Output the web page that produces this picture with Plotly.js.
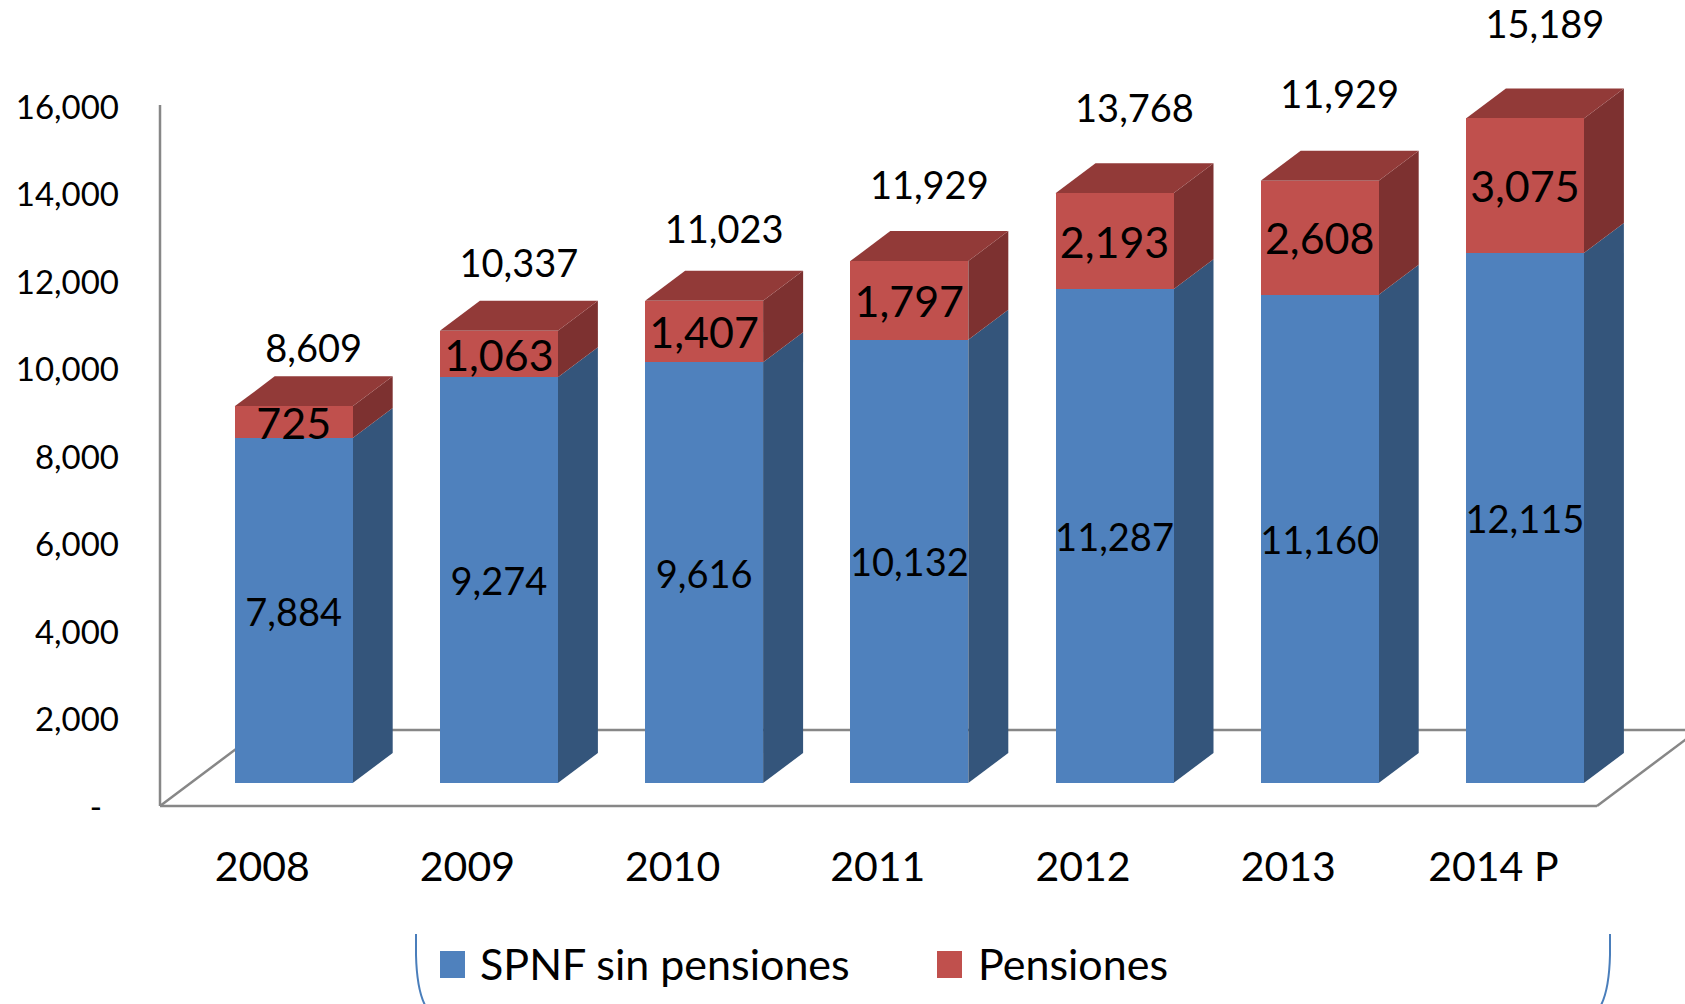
<!DOCTYPE html>
<html>
<head>
<meta charset="utf-8">
<script src="https://cdn.plot.ly/plotly-3.0.1.min.js"></script>
<style>
  html, body { margin: 0; padding: 0; background: #ffffff; }
  #chart { width: 1685px; height: 1004px; }
</style>
</head>
<body>
<div id="chart"></div>
<script>
// ---------------- DATA ----------------
const years = ['2008', '2009', '2010', '2011', '2012', '2013', '2014 P'];
const spnfSinPensiones = [7884, 9274, 9616, 10132, 11287, 11160, 12115];
const pensiones = [725, 1063, 1407, 1797, 2193, 2608, 3075];
// total labels exactly as printed on the chart
const totalLabels = ['8,609', '10,337', '11,023', '11,929', '13,768', '11,929', '15,189'];
const yTickVals = [0, 2000, 4000, 6000, 8000, 10000, 12000, 14000, 16000];
const yTickText = ['-\u00a0\u00a0', '2,000', '4,000', '6,000', '8,000', '10,000', '12,000', '14,000', '16,000'];
const seriesNames = ['SPNF sin pensiones', 'Pensiones'];

// ---------------- GEOMETRY / STYLE ----------------
const W = 1685, H = 1004;
const mL = 160, mR = 0, mT = 0, mB = 197;
const plotW = W - mL - mR, plotH = H - mT - mB;
const pxPerUnit = 0.04375;          // vertical scale (px per value unit)
const catPx = 205.2;                // px between categories
const barCenterPx = 293.7;          // front-face centre of first bar (page px)
const labelCenterPx = 262.2;        // category label centre of first bar
const totalShiftPx = 20;            // total labels sit a bit right of the front face
const barBaseLift = 24;             // bar front base sits 24px above the axis zero
const depthX = 40, depthY = 30;     // 3D depth offset in px
const barWidth = 118 / catPx;

const FONT = 'Lato, "Open Sans", "DejaVu Sans", sans-serif';
const cBlue = '#4F81BD', cBlueSide = '#34557B';
const cRed = '#C0504D', cRedSide = '#7D3130', cRedTop = '#923A38';
const cAxis = '#878787';

// axis ranges derived from geometry
const xRange = (centerPx) => [(mL - centerPx) / catPx, (W - mR - centerPx) / catPx];
const yTickRange = [0, plotH / pxPerUnit];
const yBarRange = [-barBaseLift / pxPerUnit, (plotH - barBaseLift) / pxPerUnit];
// total-label axis: label pixel = 777 - 0.04929 * total
const totPx0 = 777, totScale = 0.04929;
const yTotRange = [(totPx0 - (mT + plotH)) / totScale, (totPx0 - mT) / totScale];

const idx = years.map((_, i) => i);
const totals = spnfSinPensiones.map((v, i) => v + pensiones[i]);

// ---------------- 3D FACES (from data, in bar-axis units) ----------------
const dx = depthX / catPx, dy = depthY / pxPerUnit;
const shapes = [];
const P = (x, y) => [(x - mL) / plotW, (mT + plotH - y) / plotH];
function paperLine(x0, y0, x1, y1, color, width) {
  const a = P(x0, y0), b = P(x1, y1);
  shapes.push({type: 'line', xref: 'paper', yref: 'paper', x0: a[0], y0: a[1], x1: b[0], y1: b[1],
               line: {color: color, width: width}, layer: 'below'});
}
// floor / wall frame
const floorFrontY = 806, floorBackY = 730;
const floorDepthX = (floorFrontY - floorBackY) * depthX / depthY;
paperLine(160, 105, 160, floorFrontY, cAxis, 2.5);
paperLine(160, floorFrontY, 1597, floorFrontY, cAxis, 2.5);
paperLine(160, floorFrontY, 160 + floorDepthX, floorBackY, cAxis, 2.5);
paperLine(160 + floorDepthX, floorBackY, 1760, floorBackY, cAxis, 2.5);
paperLine(1597, floorFrontY, 1597 + floorDepthX, floorBackY, cAxis, 2.5);

function poly(pts, color) {
  const d = 'M' + pts.map(p => p[0] + ',' + p[1]).join(' L') + ' Z';
  shapes.push({type: 'path', xref: 'x2', yref: 'y2', path: d, fillcolor: color,
               line: {width: 0}, layer: 'below'});
}
idx.forEach(i => {
  const xl = i - barWidth / 2, xr = i + barWidth / 2;
  const b0 = 0, b1 = spnfSinPensiones[i], b2 = totals[i];
  poly([[xr, b0], [xr + dx, b0 + dy], [xr + dx, b1 + dy], [xr, b1]], cBlueSide);
  poly([[xr, b1], [xr + dx, b1 + dy], [xr + dx, b2 + dy], [xr, b2]], cRedSide);
  poly([[xl, b2], [xl + dx, b2 + dy], [xr + dx, b2 + dy], [xr, b2]], cRedTop);
});

// ---------------- LEGEND (manual, large squares) ----------------
function paperRect(x0, y0, x1, y1, color) {
  const a = P(x0, y0), b = P(x1, y1);
  shapes.push({type: 'rect', xref: 'paper', yref: 'paper', x0: a[0], y0: a[1], x1: b[0], y1: b[1],
               fillcolor: color, line: {width: 0}});
}
paperRect(440, 951, 465, 978, cBlue);
paperRect(937, 951, 962, 978, cRed);
function paperPath(pts, color) {
  const c = pts.map(p => P(p[0], p[1]));
  const d = 'M' + c[0][0] + ',' + c[0][1] + ' L' + c[1][0] + ',' + c[1][1] +
            ' Q' + c[2][0] + ',' + c[2][1] + ' ' + c[3][0] + ',' + c[3][1];
  shapes.push({type: 'path', xref: 'paper', yref: 'paper', path: d, line: {color: color, width: 2}});
}
paperPath([[416, 934], [416, 955], [417, 995], [428, 1010]], '#4A7EBB');
paperPath([[1610, 934], [1610, 955], [1609, 995], [1598, 1010]], '#4A7EBB');

const legendAnn = [
  {text: seriesNames[0], x: 478, y: 963},
  {text: seriesNames[1], x: 976, y: 963}
].map(o => {
  const p = P(o.x, o.y);
  return {text: o.text, xref: 'paper', yref: 'paper', x: p[0], y: p[1], xanchor: 'left', yanchor: 'middle',
          showarrow: false, font: {family: FONT, size: 43, color: '#000000'}};
});

// ---------------- TRACES ----------------
const traces = [
  {type: 'scatter', x: idx, y: idx.map(() => null), xaxis: 'x', yaxis: 'y',
   mode: 'markers', hoverinfo: 'skip', showlegend: false},
  {type: 'bar', name: seriesNames[0], x: idx, y: spnfSinPensiones, xaxis: 'x2', yaxis: 'y2',
   width: barWidth, marker: {color: cBlue, line: {width: 0}},
   texttemplate: '%{y:,.0f}', textposition: 'inside', insidetextanchor: 'middle',
   textangle: 0, constraintext: 'none',
   textfont: {family: FONT, size: 38, color: '#000000'}, hoverinfo: 'skip', showlegend: false},
  {type: 'bar', name: seriesNames[1], x: idx, y: pensiones, xaxis: 'x2', yaxis: 'y2',
   width: barWidth, marker: {color: cRed, line: {width: 0}},
   texttemplate: '%{y:,.0f}', textposition: 'inside', insidetextanchor: 'middle',
   textangle: 0, constraintext: 'none',
   textfont: {family: FONT, size: 43, color: '#000000'}, hoverinfo: 'skip', showlegend: false},
  {type: 'scatter', mode: 'text', x: idx, y: totals, text: totalLabels, xaxis: 'x3', yaxis: 'y3',
   textposition: 'middle center', cliponaxis: false,
   textfont: {family: FONT, size: 38, color: '#000000'}, hoverinfo: 'skip', showlegend: false}
];

const layout = {
  width: W, height: H,
  margin: {l: mL, r: mR, t: mT, b: mB, pad: 0},
  paper_bgcolor: '#ffffff', plot_bgcolor: 'rgba(0,0,0,0)',
  barmode: 'stack', showlegend: false,
  font: {family: FONT, color: '#000000'},
  xaxis: {range: xRange(labelCenterPx), tickvals: idx, ticktext: years, showgrid: false,
          zeroline: false, showline: false, ticks: '', ticklabelstandoff: 32,
          tickfont: {family: FONT, size: 41, color: '#000000'}, fixedrange: true},
  yaxis: {range: yTickRange, tickvals: yTickVals, ticktext: yTickText, showgrid: false,
          zeroline: false, showline: false, ticks: '', ticklabelstandoff: 40,
          tickfont: {family: FONT, size: 33, color: '#000000'}, fixedrange: true},
  xaxis2: {range: xRange(barCenterPx), overlaying: 'x', visible: false, fixedrange: true},
  yaxis2: {range: yBarRange, overlaying: 'y', visible: false, fixedrange: true},
  xaxis3: {range: xRange(barCenterPx + totalShiftPx), overlaying: 'x', visible: false, fixedrange: true},
  yaxis3: {range: yTotRange, overlaying: 'y', visible: false, fixedrange: true},
  shapes: shapes,
  annotations: legendAnn
};

Plotly.newPlot('chart', traces, layout, {displayModeBar: false, staticPlot: true});
</script>
</body>
</html>
